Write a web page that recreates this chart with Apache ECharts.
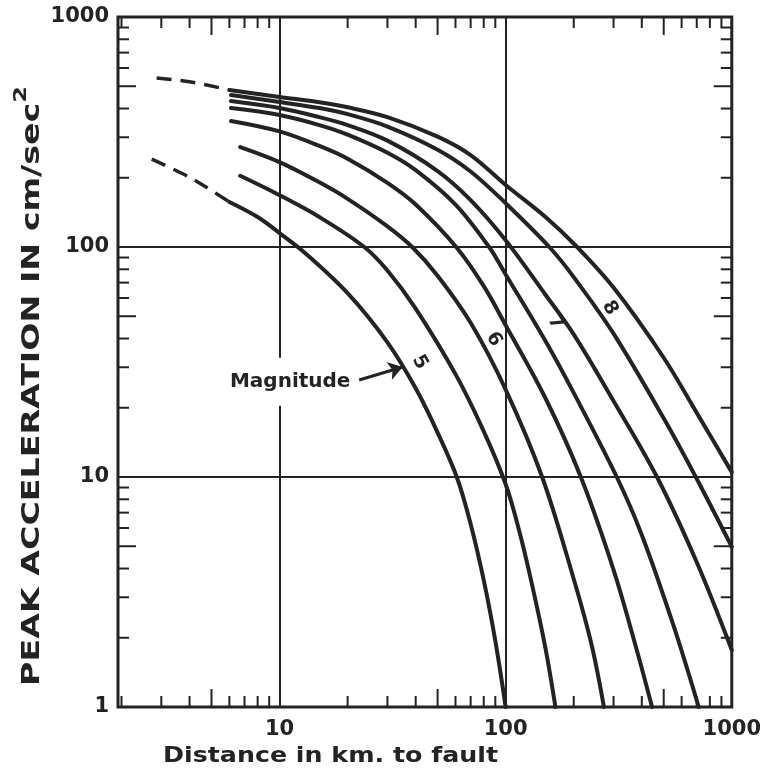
<!DOCTYPE html>
<html>
<head>
<meta charset="utf-8">
<script src="https://cdn.jsdelivr.net/npm/echarts@6/dist/echarts.min.js"></script>
<style>
  html, body { margin: 0; padding: 0; background: #ffffff; }
  #chart { width: 764px; height: 771px; }
</style>
</head>
<body>
<div id="chart"></div>
<script>
// Peak acceleration against distance to the causative fault, one curve per
// earthquake magnitude, on log-log axes.

const magnitudes = [5, 5.5, 6, 6.5, 7, 7.5, 8, 8.5];

// [distance in km, peak acceleration in cm/sec^2]
const m5   = [[6,157],[8,135],[10,115],[13,94],[20,63],[30,38.5],[40,24.3],[50,15.6],[61,9.9],[70,6.25],[80,3.56],[90,1.94],[100,1]];
const m5_5 = [[6.7,204],[10,168],[15,135],[23.7,100],[30,79],[40,54],[60,28],[80,15.8],[100,9.3],[115,5.8],[130,3.5],[150,1.8],[166,1]];
const m6   = [[6.7,272],[10,234],[15,191],[20,162],[30,123],[38.6,100],[50,75],[70,46.8],[100,24],[145,10],[200,3.6],[240,1.86],[272,1]];
const m6_5 = [[6.1,353],[10,318],[15,275],[20,242],[30,190],[40,153],[60.4,100],[80,67.6],[100,45.7],[150,22],[215,10],[300,3.95],[380,1.77],[444,1]];
const m7   = [[6.1,402],[10,375],[15,339],[20,308],[30,257],[40,216],[60,153],[84.5,100],[100,76],[150,39],[200,23.2],[310,10],[400,5.6],[550,2.29],[714,1]];
const m7_5 = [[6.1,431],[10,402],[15,367],[20,339],[30,290],[50,214],[70,160],[100,107],[150,62],[200,41.7],[300,21.4],[467,10],[700,4.26],[1000,1.77]];
const m8   = [[6.1,458],[10,427],[15,402],[20,378],[30,334],[50,265],[70,213],[100,155],[156,100],[200,74],[300,42],[500,18],[693,10],[1000,4.97]];
const m8_5 = [[6,482],[10,449],[15,426],[20,405],[30,367],[50,302],[70,251],[100,186],[150,135],[207,100],[300,66.6],[500,33],[700,19],[1000,10.5]];

// dashed extrapolations toward the fault for the smallest and largest events
const m5Near   = [[2.72,241],[4,201],[6,157]];
const m8_5Near = [[2.86,543],[4,523],[6,482]];

const curves = [m5, m5_5, m6, m6_5, m7, m7_5, m8, m8_5];

// distance (km) along a curve where its magnitude number is written,
// and the number's shift off the curve in screen pixels
const curveLabelKm = { 5: 34, 6: 76, 7: 134, 8: 248 };
const curveLabelShift = { 5: [20, 0], 6: [15, 1], 7: [21, 0], 8: [15, 1] };
const LABEL_ROTATE = -60;

// the "Magnitude" note: where its arrow starts and where it meets the M5 curve
const noteFrom = [22.5, 26.4];
const noteToKm = 35;

const xTickLabels = ['10', '100', '1000'];
const yTickLabels = ['1', '10', '100', '1000'];
const minorMultipliers = [2, 3, 4, 5, 6, 7, 8, 9];
const decades = [1, 10, 100];

const X_RANGE = [1.93, 1000];
const Y_RANGE = [1, 1000];

const INK = '#232323';
const FONT = '"DejaVu Sans", "Liberation Sans", sans-serif';

// minor tick values between decades
const minorTicks = [];
decades.forEach(d => minorMultipliers.forEach(m => minorTicks.push(d * m)));

// point on a curve at distance km, interpolated in log-log space
function onCurve(points, km) {
  const lk = Math.log10(km);
  for (let i = 0; i < points.length - 1; i++) {
    const a = points[i], b = points[i + 1];
    const la = Math.log10(a[0]), lb = Math.log10(b[0]);
    if (lk >= la && lk <= lb) {
      const t = (lk - la) / (lb - la);
      const ly = Math.log10(a[1]) + t * (Math.log10(b[1]) - Math.log10(a[1]));
      return [km, Math.pow(10, ly)];
    }
  }
  return points[points.length - 1];
}

// label offsets are applied in the rotated text frame; convert a screen shift
function rotatedOffset(shift, rotateDeg) {
  const th = -rotateDeg * Math.PI / 180;
  const c = Math.cos(th), s = Math.sin(th);
  return [shift[0] * c + shift[1] * s, -shift[0] * s + shift[1] * c];
}

function isPowerOfTen(v) {
  const l = Math.log10(v);
  return Math.abs(l - Math.round(l)) < 1e-6;
}

function isFive(v) {
  const p = Math.pow(10, Math.floor(Math.log10(v) + 1e-9));
  return Math.abs(v / p - 5) < 1e-6;
}

function labelFor(list) {
  return function (v) {
    if (!isPowerOfTen(v)) return '';
    const s = String(Math.round(v));
    return list.indexOf(s) >= 0 ? s : '';
  };
}

const tickStyle = { stroke: INK, lineWidth: 2 };

// tick marks on all four edges of the plot, pointing inward
const tickSeries = {
  type: 'custom',
  silent: true,
  clip: false,
  z: 4,
  data: [[X_RANGE[0], Y_RANGE[0]]],
  renderItem: function (params, api) {
    const children = [];
    minorTicks.forEach(v => {
      const len = isFive(v) ? 18 : 11;
      if (v > X_RANGE[0]) {
        const b = api.coord([v, Y_RANGE[0]]);
        const t = api.coord([v, Y_RANGE[1]]);
        children.push({ type: 'line', shape: { x1: b[0], y1: b[1], x2: b[0], y2: b[1] - len }, style: tickStyle });
        children.push({ type: 'line', shape: { x1: t[0], y1: t[1], x2: t[0], y2: t[1] + len }, style: tickStyle });
      }
      const l = api.coord([X_RANGE[0], v]);
      const r = api.coord([X_RANGE[1], v]);
      children.push({ type: 'line', shape: { x1: l[0], y1: l[1], x2: l[0] + len, y2: l[1] }, style: tickStyle });
      children.push({ type: 'line', shape: { x1: r[0], y1: r[1], x2: r[0] - len, y2: r[1] }, style: tickStyle });
    });
    return { type: 'group', children: children };
  }
};

const digitStyle = { color: INK, fontSize: 19, fontWeight: 'bold', fontFamily: FONT };

const curveSeries = curves.map((pts, i) => {
  const mag = magnitudes[i];
  const s = {
    type: 'line',
    name: 'M ' + mag,
    data: pts,
    showSymbol: false,
    smooth: 0.35,
    silent: true,
    z: 3,
    lineStyle: { color: INK, width: 4, cap: 'round' }
  };
  if (curveLabelKm[mag] !== undefined) {
    s.markPoint = {
      silent: true,
      symbol: 'circle',
      symbolSize: 0,
      label: Object.assign({
        show: true,
        formatter: String(mag),
        rotate: LABEL_ROTATE,
        offset: rotatedOffset(curveLabelShift[mag], LABEL_ROTATE)
      }, digitStyle),
      data: [{ coord: onCurve(pts, curveLabelKm[mag]) }]
    };
  }
  return s;
});

// arrow and text pointing at the magnitude-5 curve
curveSeries[0].markLine = {
  silent: true,
  symbol: ['none', 'arrow'],
  symbolSize: 14,
  lineStyle: { type: 'solid', color: INK, width: 3 },
  label: {
    show: true,
    position: 'start',
    formatter: 'Magnitude',
    distance: 6,
    color: INK,
    fontSize: 20,
    fontWeight: 'bold',
    fontFamily: FONT,
    backgroundColor: '#ffffff',
    padding: [14, 3]
  },
  data: [[{ coord: noteFrom }, { coord: onCurve(m5, noteToKm) }]]
};

const dashedSeries = [m5Near, m8_5Near].map(pts => ({
  type: 'line',
  data: pts,
  showSymbol: false,
  smooth: 0.3,
  silent: true,
  z: 3,
  lineStyle: { color: INK, width: 3.5, type: [15, 9] }
}));

const axisLabelStyle = { color: INK, fontSize: 21, fontWeight: 'bold', fontFamily: FONT };

const option = {
  backgroundColor: '#ffffff',
  animation: false,
  grid: {
    left: 118, right: 31, top: 17, bottom: 64,
    show: true, borderColor: INK, borderWidth: 3, backgroundColor: 'transparent'
  },
  xAxis: {
    type: 'log', logBase: 10, min: X_RANGE[0], max: X_RANGE[1],
    axisLine: { show: false }, axisTick: { show: false },
    splitLine: { show: true, lineStyle: { color: INK, width: 2 } },
    axisLabel: Object.assign({ formatter: labelFor(xTickLabels), margin: 12, showMinLabel: false }, axisLabelStyle)
  },
  yAxis: {
    type: 'log', logBase: 10, min: Y_RANGE[0], max: Y_RANGE[1],
    axisLine: { show: false }, axisTick: { show: false },
    splitLine: { show: true, lineStyle: { color: INK, width: 2 } },
    axisLabel: Object.assign({ formatter: labelFor(yTickLabels), margin: 9 }, axisLabelStyle)
  },
  graphic: [
    {
      type: 'text', x: 163, y: 745, scaleX: 1.15, silent: true,
      style: { text: 'Distance in km. to fault', fill: INK, font: 'bold 22px ' + FONT, textAlign: 'left', textVerticalAlign: 'top' }
    },
    {
      type: 'text', x: 32, y: 386, rotation: Math.PI / 2, scaleX: 1.33, silent: true,
      style: {
        text: '{t|PEAK ACCELERATION IN cm/sec}{s|2}',
        fill: INK,
        textAlign: 'center', textVerticalAlign: 'middle',
        rich: {
          t: { fontSize: 25, fontWeight: 'bold', fontFamily: FONT, lineHeight: 40 },
          s: { fontSize: 18, fontWeight: 'bold', fontFamily: FONT, verticalAlign: 'top', lineHeight: 18 }
        }
      }
    }
  ],
  series: curveSeries.concat(dashedSeries, [tickSeries])
};

const chart = echarts.init(document.getElementById('chart'), null, { renderer: 'canvas' });
chart.setOption(option);
</script>
</body>
</html>
